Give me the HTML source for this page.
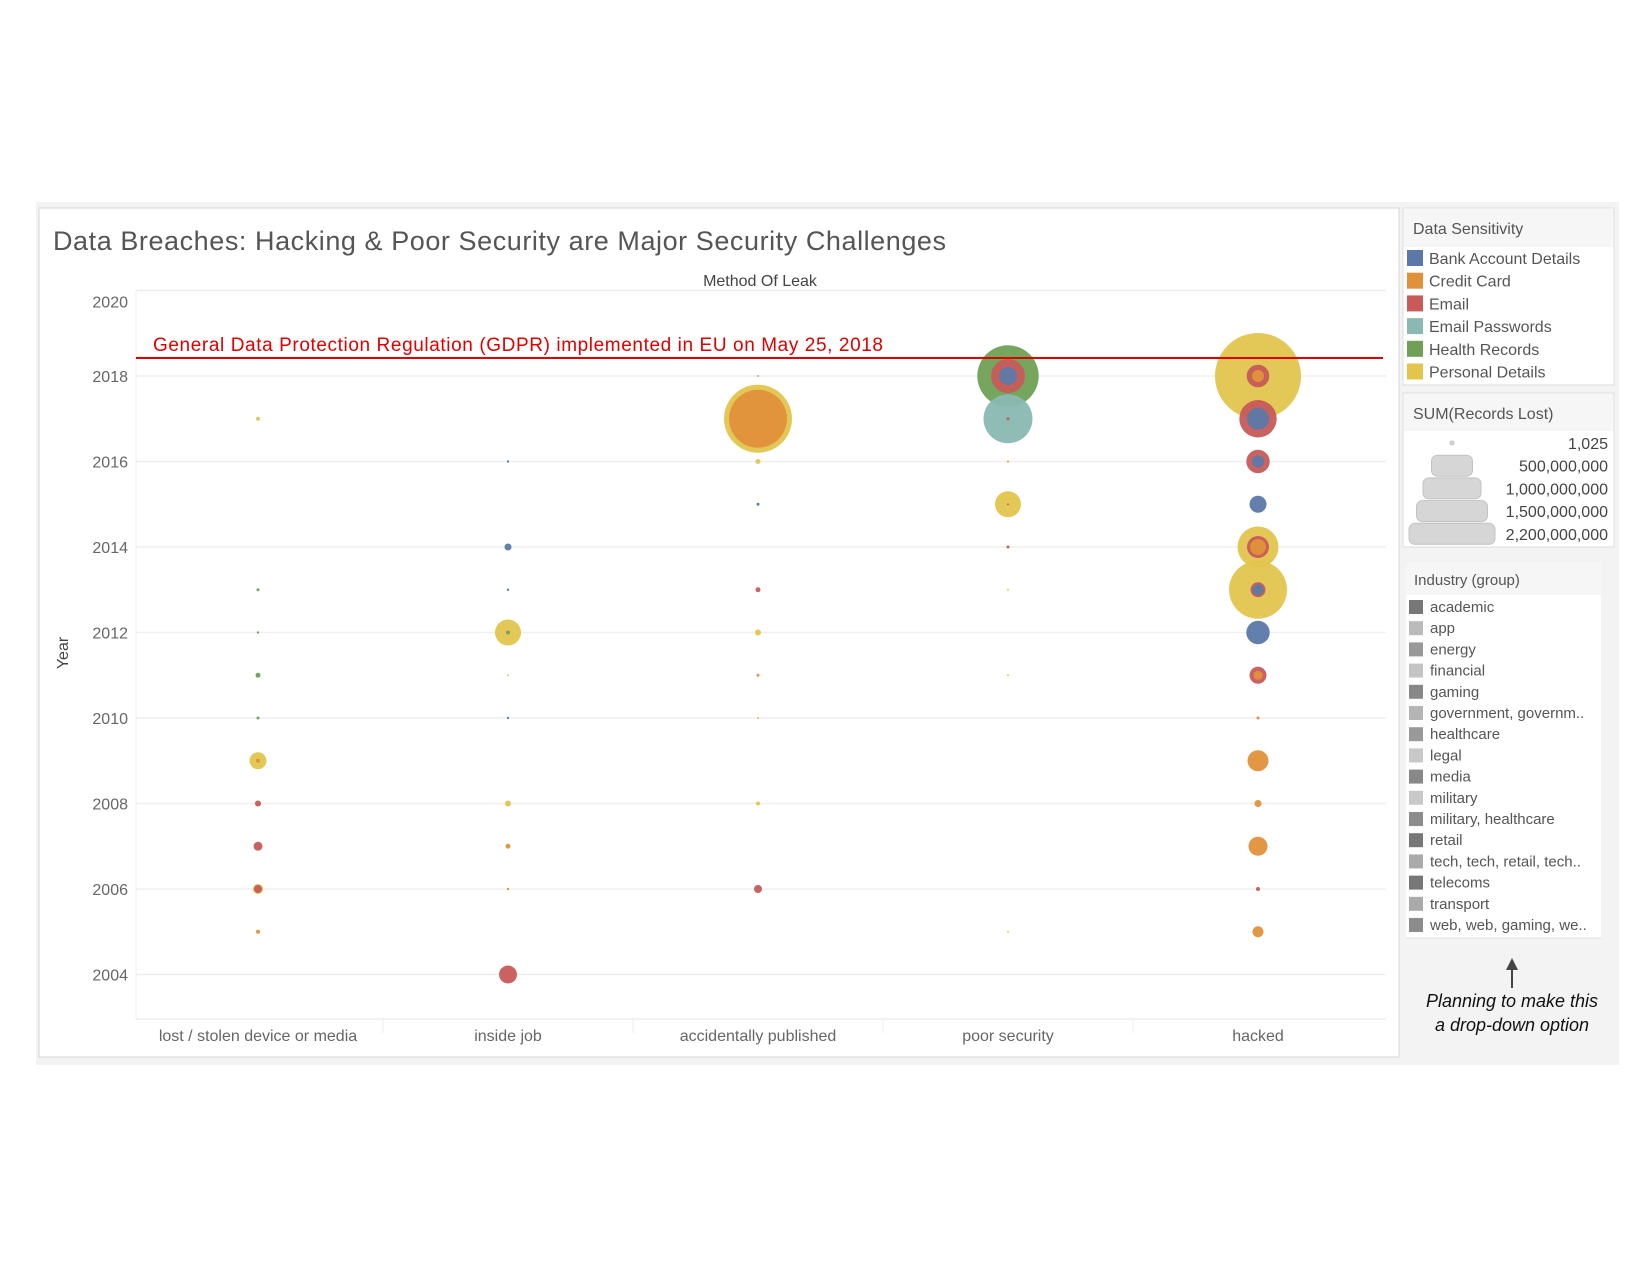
<!DOCTYPE html>
<html><head><meta charset="utf-8"><style>
body{margin:0;background:#fff;}
svg{display:block;font-family:"Liberation Sans",sans-serif;}
</style></head><body>
<svg id="c" width="1650" height="1275" xmlns="http://www.w3.org/2000/svg">
<rect x="36" y="202" width="1583" height="863" fill="#f3f3f3"/>
<rect x="39" y="208" width="1360" height="849" fill="#fff" stroke="#d6d6d6"/>
<text x="53" y="250" font-size="27" fill="#555" textLength="893">Data Breaches: Hacking &amp; Poor Security are Major Security Challenges</text>
<text x="760" y="286" font-size="16" fill="#444" text-anchor="middle">Method Of Leak</text>
<text transform="translate(68,653) rotate(-90)" font-size="16" fill="#444" text-anchor="middle">Year</text>
<g id="grid"></g><g id="marks"></g>
<line x1="136" y1="358" x2="1383" y2="358" stroke="#e00000" stroke-width="2"/>
<text x="153" y="351" font-size="19" fill="#e00000" textLength="730">General Data Protection Regulation (GDPR) implemented in EU on May 25, 2018</text>

<rect x="1403" y="208" width="211" height="177" fill="#fff" stroke="#ddd"/>
<rect x="1404" y="209" width="209" height="38" fill="#f6f6f6"/>
<text x="1413" y="234" font-size="16" fill="#555">Data Sensitivity</text>
<g id="clegend"></g>
<rect x="1403" y="393" width="211" height="154" fill="#fff" stroke="#ddd"/>
<rect x="1404" y="394" width="209" height="37" fill="#f6f6f6"/>
<text x="1413" y="419" font-size="16" fill="#555">SUM(Records Lost)</text>
<g id="slegend"></g>
<rect x="1406" y="563" width="195" height="375" fill="#fff"/>
<rect x="1406" y="563" width="195" height="32" fill="#f6f6f6"/>
<line x1="1406" y1="938" x2="1601" y2="938" stroke="#ddd"/>
<text x="1414" y="585" font-size="15" fill="#555">Industry (group)</text>
<g id="ilegend"></g>
<line x1="1512" y1="988" x2="1512" y2="966" stroke="#444" stroke-width="2"/>
<polygon points="1512,958 1506,970 1518,970" fill="#444"/>
<text x="1512" y="1007" font-size="18" font-style="italic" fill="#111" text-anchor="middle">Planning to make this</text>
<text x="1512" y="1031" font-size="18" font-style="italic" fill="#111" text-anchor="middle">a drop-down option</text>
</svg>
<script>
const categories=["lost / stolen device or media","inside job","accidentally published","poor security","hacked"];
const yearTicks=[2004,2006,2008,2010,2012,2014,2016,2018,2020];
const sensitivities=["Bank Account Details","Credit Card","Email","Email Passwords","Health Records","Personal Details"];
const sensColors=["#5b79a8","#e0913a","#c85a5a","#8ab8b2","#6fa055","#e3c54e"];
// each breach: method index, year, sensitivity index, records lost (millions)
const bMethod=[0,0,0,0,0,0,0,0,0,0,0,0,
 1,1,1,1,1,1,1,1,1,1,1,
 2,2,2,2,2,2,2,2,2,2,2,
 3,3,3,3,3,3,3,3,3,3,3,3,
 4,4,4,4,4,4,4,4,4,4,4,4,4,4,4,4,4,4,4,4,4,4,4,4,4];
const bYear=[2017,2013,2012,2011,2010,2009,2009,2008,2007,2006,2006,2005,
 2016,2014,2013,2012,2012,2011,2010,2008,2007,2006,2004,
 2018,2017,2017,2016,2015,2013,2012,2011,2010,2008,2006,
 2018,2018,2018,2017,2017,2016,2015,2015,2014,2013,2011,2005,
 2018,2018,2018,2017,2017,2016,2016,2015,2014,2014,2014,2013,2013,2013,2012,2011,2011,2010,2009,2008,2007,2006,2005];
const bSens=[5,4,4,4,4,5,1,2,2,5,2,1,
 0,0,0,5,4,5,0,5,1,1,2,
 3,5,1,5,0,2,5,1,5,5,2,
 4,2,0,3,2,1,5,2,2,5,5,5,
 5,2,1,2,0,2,0,0,5,2,1,5,2,0,0,2,1,1,1,1,1,2,1];
const bRecordsM=[4.8,2.7,1.7,7.4,2.7,86,4.8,11,24,30,19,4.8,
 1.7,15,1.7,201,4.8,1.2,1.7,11,7.4,1.7,96,
 1.2,1376,1000,7.4,2.7,7.4,11,2.7,1.2,4.8,19,
 1121,344,96,714,2.7,1.2,201,1.2,2.7,1.2,1.2,1.2,
 2200,152,43,416,144,163,43,86,500,144,76,1000,67,36,163,86,24,2.7,131,15,107,4.8,36];
const industries=["academic","app","energy","financial","gaming","government, governm..","healthcare","legal","media","military","military, healthcare","retail","tech, tech, retail, tech..","telecoms","transport","web, web, gaming, we.."];
const industryShades=["#777","#bbb","#999","#c4c4c4","#888","#b5b5b5","#999","#c8c8c8","#888","#c8c8c8","#8c8c8c","#777","#aaa","#777","#aaa","#8c8c8c"];
const sizeLegendValues=[1025,500e6,1000e6,1500e6,2200e6];
const sizeLegendLabels=["1,025","500,000,000","1,000,000,000","1,500,000,000","2,200,000,000"];

const NS="http://www.w3.org/2000/svg";
function mk(t,a,p){const e=document.createElementNS(NS,t);for(const k in a)e.setAttribute(k,a[k]);p.appendChild(e);return e;}
const plotL=133,plotR=1383,bandW=(plotR-plotL)/categories.length;
const xScale=i=>plotL+bandW*(i+0.5);
const yScale=y=>376+(2018-y)*42.75;
const rScale=m=>43*Math.sqrt(m/2200);
const grid=document.getElementById('grid');
yearTicks.forEach(y=>{
 const l=mk('line',{x1:136,x2:1386,y1:yScale(y),y2:yScale(y),stroke:'#efefef','stroke-width':1.5},grid);
 
 
 const t=mk('text',{x:128,y:(y===2020?yScale(y)+17:yScale(y)+6),'font-size':16,fill:'#666','text-anchor':'end'},grid);
 t.textContent=y;
 
 
});
const ax=mk('line',{x1:136,x2:136,y1:yScale(2020),y2:1019,stroke:'#efefef'},grid);


const bx=mk('line',{x1:136,x2:1386,y1:1019,y2:1019,stroke:'#e6e6e6'},grid);


categories.forEach((c,i)=>{
 if(i>0){const s=mk('line',{x1:plotL+bandW*i,x2:plotL+bandW*i,y1:1019,y2:1033,stroke:'#eee'},grid);
 
 }
 const t=mk('text',{x:xScale(i),y:1041,'font-size':16,fill:'#666','text-anchor':'middle'},grid);
 t.textContent=c;
 
 
});
const marks=document.getElementById('marks');
const idx=bRecordsM.map((v,i)=>i).sort((a,b)=>bRecordsM[b]-bRecordsM[a]);
idx.forEach(i=>{
 const c=mk('circle',{cx:xScale(bMethod[i]),cy:yScale(bYear[i]),r:Math.max(1,rScale(bRecordsM[i])),fill:sensColors[bSens[i]],'fill-opacity':0.95},marks);
 
 
});
const cl=document.getElementById('clegend');
sensitivities.forEach((s,i)=>{
 const y=258+i*22.7;
 const r=mk('rect',{x:1407,y:y-8,width:16,height:16,fill:sensColors[i]},cl);
 
 
 const t=mk('text',{x:1429,y:y+6,'font-size':16,fill:'#555'},cl);
 t.textContent=s;
 
 
});
const sl=document.getElementById('slegend');
sizeLegendValues.forEach((v,i)=>{
 const y=443+i*22.7;
 const w=Math.max(4,2*rScale(v/1e6));
 const h=Math.min(w,21);
 const r=mk('rect',{x:1452-w/2,y:y-h/2,width:w,height:h,rx:Math.min(h/2,6),fill:'#d6d6d6',stroke:'#c2c2c2'},sl);
 
 
 const t=mk('text',{x:1608,y:y+6,'font-size':16,fill:'#444','text-anchor':'end'},sl);
 t.textContent=sizeLegendLabels[i];
 
 
});
const il=document.getElementById('ilegend');
industries.forEach((s,i)=>{
 const y=607+i*21.2;
 const r=mk('rect',{x:1409,y:y-7,width:14,height:14,fill:industryShades[i]},il);
 
 
 const t=mk('text',{x:1430,y:y+5,'font-size':15,fill:'#555'},il);
 t.textContent=s;
 
 
});
</script>
</body></html>
